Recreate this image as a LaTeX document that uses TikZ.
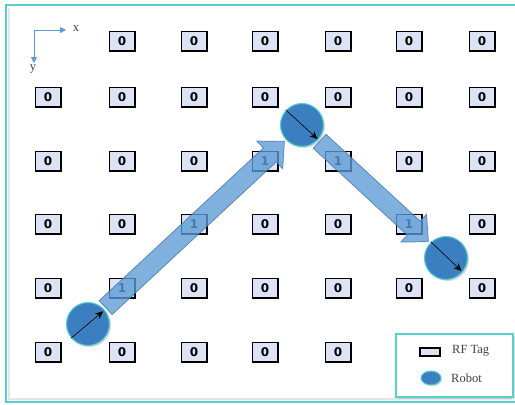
\documentclass[tikz,border=0pt]{standalone}
\usepackage{fontspec}
\setmainfont{Liberation Serif}
\newfontfamily\tagfont{DejaVu Sans}
\usetikzlibrary{calc,shadows,arrows.meta,shapes.geometric}

\definecolor{frameteal}{HTML}{56CFCF}
\definecolor{tagfill}{HTML}{DCE3F5}
\definecolor{robotblue}{HTML}{3C7FC0}
\definecolor{pathblue}{HTML}{5B9BD5}
\definecolor{pathedge}{HTML}{41719C}
\definecolor{axisblue}{HTML}{5B9BD5}
\definecolor{labelgray}{HTML}{404040}

\tikzset{
  rftag/.style={draw=black, line width=1.5pt, fill=tagfill,
    minimum width=25.5pt, minimum height=19.5pt, inner sep=0pt,
    font=\tagfont\bfseries\fontsize{12}{12}\selectfont,
    drop shadow={shadow xshift=1.6pt, shadow yshift=-1.6pt, opacity=0.35}},
  robot/.style={circle, minimum size=43pt, inner sep=0pt, fill=robotblue,
    draw=frameteal, line width=1.1pt,
    drop shadow={shadow xshift=1.5pt, shadow yshift=-1.5pt, opacity=0.3}},
  heading/.style={-{Stealth[length=8pt,width=7pt]}, line width=0.6pt, black},
  pathshaft/.style={fill=pathblue, fill opacity=0.78, draw=pathedge,
    draw opacity=0.8, line width=0.7pt, line join=miter},
  axis/.style={axisblue, line width=0.8pt, -{Triangle[length=6pt,width=6pt]}},
  plainlabel/.style={text=labelgray, inner sep=0pt,
    font=\fontsize{12.5}{12.5}\selectfont},
  legendbox/.style={draw=frameteal, line width=1.2pt, fill=white,
    minimum width=117pt, minimum height=63pt, inner sep=0pt,
    drop shadow={shadow xshift=1.5pt, shadow yshift=-1.5pt, opacity=0.25}},
}

% block arrow between two robot nodes: tail and tip sit 24pt off the centres
\newcommand\movearrow[2]{%
  \coordinate (#1#2t) at ($(#1)!24pt!(#2)$);
  \coordinate (#1#2h) at ($(#2)!24pt!(#1)$);
  \coordinate (#1#2n) at ($(#1#2h)!20pt!(#1#2t)$);
  \draw[pathshaft]
    ($(#1#2t)!9.5pt!90:(#1#2h)$) -- ($(#1#2n)!9.5pt!90:(#1#2h)$)
    -- ($(#1#2n)!19pt!90:(#1#2h)$) -- (#1#2h)
    -- ($(#1#2n)!19pt!-90:(#1#2h)$) -- ($(#1#2n)!9.5pt!-90:(#1#2h)$)
    -- ($(#1#2t)!9.5pt!-90:(#1#2h)$) -- cycle;
}

\begin{document}
\begin{tikzpicture}[x=1pt, y=-1pt]
  \useasboundingbox (0,0) rectangle (515,405);
  \fill[white] (0,0) rectangle (515,405);

  % outer frame with a faint inner shadow on the left and bottom
  \draw[black!10, line width=2pt] (9,8) -- (9,399) -- (512,399);
  \draw[frameteal, line width=1.4pt] (6,5) rectangle (516,402);

  % coordinate axes
  \coordinate (o) at (34,30);
  \coordinate (xend) at (66,30);
  \coordinate (yend) at (34,63);
  \draw[axis] (o) -- (xend);
  \draw[axis] (o) -- (yend);
  \node[plainlabel] (xlab) at (76,29) {x};
  \node[plainlabel] (ylab) at (33,69) {y};

  % grid of RF tags
  \foreach \r/\y in {0/41,1/97,2/161,3/224,4/288,5/352}{
    \foreach \c/\x in {0/48,1/122,2/194,3/265,4/338,5/409,6/482}{
      \pgfmathtruncatemacro\cellid{10*\r+\c}
      \pgfmathtruncatemacro\absent{(\cellid==0)||(\cellid==55)||(\cellid==56)}
      \pgfmathtruncatemacro\bit{(\cellid==23)||(\cellid==24)||(\cellid==32)||(\cellid==35)||(\cellid==41)}
      \ifnum\absent=0
        \node[rftag] (t\r\c) at (\x,\y) {\bit};
      \fi
    }
  }

  % robot positions
  \path (88,324) coordinate (p1) (302,125) coordinate (p2) (446,258) coordinate (p3);
  \node[inner sep=0pt, minimum size=0pt] (r1) at (p1) {};
  \node[inner sep=0pt, minimum size=0pt] (r2) at (p2) {};
  \node[inner sep=0pt, minimum size=0pt] (r3) at (p3) {};

  % travelled path
  \movearrow{r1}{r2}
  \movearrow{r2}{r3}

  % robots with their heading
  \node[robot] (rb1) at (r1) {};
  \node[robot] (rb2) at (r2) {};
  \node[robot] (rb3) at (r3) {};
  \draw[heading] (rb1.220) -- ($(rb1.center)!0.9!(rb1.40)$);
  \draw[heading] (rb2.137) -- ($(rb2.center)!0.95!(rb2.-42)$);
  \draw[heading] (rb3.133) -- ($(rb3.center)!0.92!(rb3.-40)$);

  % legend
  \node[legendbox] (leg) at (454.5,365.5) {};
  \node[draw=black, line width=1.4pt, fill=tagfill, minimum width=20pt,
    minimum height=8pt, inner sep=0pt] (legtag) at (430,352) {};
  \node[plainlabel, anchor=west] (legtagtxt) at (452,351) {RF Tag};
  \node[ellipse, fill=robotblue, draw=frameteal, line width=1pt,
    minimum width=20pt, minimum height=14pt, inner sep=0pt,
    drop shadow={shadow xshift=1.2pt, shadow yshift=-1.2pt, opacity=0.3}]
    (legrobot) at (431,378) {};
  \node[plainlabel, anchor=west] (legrobottxt) at (451,378) {Robot};
\end{tikzpicture}
\end{document}
